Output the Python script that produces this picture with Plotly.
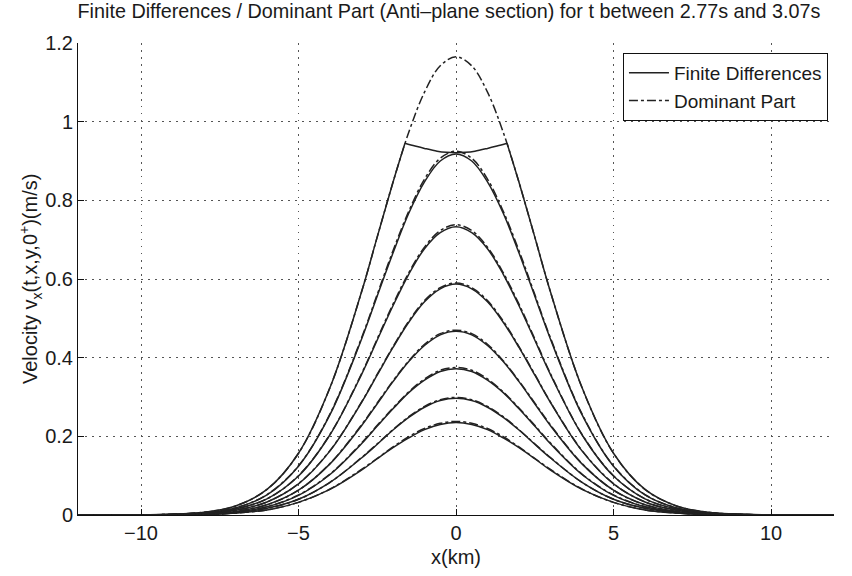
import plotly.graph_objects as go

# Sample positions along the section (km)
x_km = [-12, -10, -8, -7, -6, -5, -4, -3, -2.5, -2, -1.5, -1, -0.5, 0,
        0.5, 1, 1.5, 2, 2.5, 3, 4, 5, 6, 7, 8, 10, 12]

# Finite-difference velocity snapshots (m/s), lowest to highest
fd_1 = [0, 0, .001, .005, .013, .032, .065, .114, .143, .171, .196, .217, .230, .235,
        .230, .217, .196, .171, .143, .114, .065, .032, .013, .005, .001, 0, 0]
fd_2 = [0, 0, .002, .006, .017, .040, .083, .145, .180, .216, .248, .274, .291, .297,
        .291, .274, .248, .216, .180, .145, .083, .040, .017, .006, .002, 0, 0]
fd_3 = [0, 0, .002, .007, .021, .050, .103, .181, .226, .270, .311, .343, .365, .372,
        .365, .343, .311, .270, .226, .181, .103, .050, .021, .007, .002, 0, 0]
fd_4 = [0, 0, .003, .009, .026, .063, .130, .227, .283, .339, .390, .431, .458, .467,
        .458, .431, .390, .339, .283, .227, .130, .063, .026, .009, .003, 0, 0]
fd_5 = [0, 0, .004, .012, .033, .079, .163, .286, .356, .426, .490, .542, .575, .587,
        .575, .542, .490, .426, .356, .286, .163, .079, .033, .012, .004, 0, 0]
fd_6 = [0, 0, .004, .015, .041, .099, .204, .357, .445, .532, .612, .677, .718, .733,
        .718, .677, .612, .532, .445, .357, .204, .099, .041, .015, .004, 0, 0]
fd_7 = [0, 0, .006, .018, .051, .124, .255, .447, .557, .666, .767, .847, .900, .918,
        .900, .847, .767, .666, .557, .447, .255, .124, .051, .018, .006, 0, 0]

# Highest finite-difference snapshot: rising flank, flattened crest, falling flank
x_top_left = [-12, -10, -8, -7, -6, -5, -4, -3, -2.5, -2, -1.62]
fd_top_left = [0, 0, .007, .023, .065, .157, .324, .567, .707, .846, .945]
x_top_crest = [-1.62, -1.3, -1.0, -0.6, -0.3, 0, 0.3, 0.6, 1.0, 1.3, 1.62]
fd_top_crest = [.945, .938, .932, .925, .922, .921, .922, .925, .932, .938, .945]
x_top_right = [1.62, 2, 2.5, 3, 4, 5, 6, 7, 8, 10, 12]
fd_top_right = [.945, .846, .707, .567, .324, .157, .065, .023, .007, 0, 0]

# Dominant-part approximation (m/s), lowest to highest
dp_1 = [0, 0, .001, .005, .013, .032, .066, .116, .144, .173, .199, .220, .233, .238,
        .233, .220, .199, .173, .144, .116, .066, .032, .013, .005, .001, 0, 0]
dp_2 = [0, 0, .002, .006, .017, .040, .083, .146, .181, .217, .250, .276, .293, .299,
        .293, .276, .250, .217, .181, .146, .083, .040, .017, .006, .002, 0, 0]
dp_3 = [0, 0, .002, .007, .021, .051, .104, .183, .228, .272, .313, .346, .368, .375,
        .368, .346, .313, .272, .228, .183, .104, .051, .021, .007, .002, 0, 0]
dp_4 = [0, 0, .003, .009, .026, .063, .131, .229, .285, .341, .392, .434, .461, .470,
        .461, .434, .392, .341, .285, .229, .131, .063, .026, .009, .003, 0, 0]
dp_5 = [0, 0, .004, .012, .033, .080, .164, .287, .358, .428, .493, .545, .578, .590,
        .578, .545, .493, .428, .358, .287, .164, .080, .033, .012, .004, 0, 0]
dp_6 = [0, 0, .004, .015, .041, .100, .205, .359, .448, .536, .616, .681, .723, .738,
        .723, .681, .616, .536, .448, .359, .205, .100, .041, .015, .004, 0, 0]
dp_7 = [0, 0, .006, .018, .052, .125, .257, .450, .561, .672, .772, .854, .907, .925,
        .907, .854, .772, .672, .561, .450, .257, .125, .052, .018, .006, 0, 0]
dp_8 = [0, 0, .007, .023, .065, .157, .324, .567, .707, .846, .973, 1.075, 1.142, 1.165,
        1.142, 1.075, .973, .846, .707, .567, .324, .157, .065, .023, .007, 0, 0]

fd_series = [fd_1, fd_2, fd_3, fd_4, fd_5, fd_6, fd_7]
dp_series = [dp_1, dp_2, dp_3, dp_4, dp_5, dp_6, dp_7, dp_8]

x_ticks = [-10, -5, 0, 5, 10]
y_ticks = [0, 0.2, 0.4, 0.6, 0.8, 1.0, 1.2]

LINE = "#222222"
FONT = "Liberation Sans, Arial, Helvetica, sans-serif"
SOLID = dict(color=LINE, width=1.5, shape="spline")
DASHDOT = dict(color=LINE, width=1.5, dash="dashdot", shape="spline")

fig = go.Figure()

# Finite differences (solid)
fig.add_trace(go.Scatter(
    x=x_top_left, y=fd_top_left, mode="lines", name="Finite Differences",
    line=SOLID, showlegend=True, legendrank=1, legendgroup="fd"))
for xs, ys in [(x_top_crest, fd_top_crest), (x_top_right, fd_top_right)]:
    fig.add_trace(go.Scatter(x=xs, y=ys, mode="lines", line=SOLID,
                             showlegend=False, legendgroup="fd"))
for ys in fd_series:
    fig.add_trace(go.Scatter(x=x_km, y=ys, mode="lines", line=SOLID,
                             showlegend=False, legendgroup="fd"))

# Dominant part (dash-dot)
for i, ys in enumerate(dp_series):
    fig.add_trace(go.Scatter(
        x=x_km, y=ys, mode="lines", name="Dominant Part", line=DASHDOT,
        showlegend=(i == 0), legendrank=2, legendgroup="dp"))

fig.update_layout(
    width=852, height=576,
    margin=dict(l=78, r=18, t=43, b=53, pad=0),
    paper_bgcolor="white", plot_bgcolor="white",
    font=dict(family=FONT, size=20, color="#1a1a1a"),
    title=dict(
        text="Finite Differences / Dominant Part (Anti\u2013plane section) for t between 2.77s and 3.07s",
        x=0.527, xanchor="center", y=0.98, yanchor="middle",
        font=dict(size=19.8)),
    legend=dict(
        x=0.992, xanchor="right", y=0.979, yanchor="top",
        bgcolor="white", bordercolor="#111", borderwidth=1,
        font=dict(size=19), tracegroupgap=0, itemwidth=40),
    showlegend=True,
)

GRID = dict(showgrid=True, gridcolor="#555", griddash="1.5px,5.5px", gridwidth=1.2)

fig.update_xaxes(
    range=[-12, 12], tickvals=x_ticks,
    showline=True, linecolor="#111", linewidth=1, mirror=False,
    ticks="inside", ticklen=6, tickcolor="#111",
    zeroline=False, **GRID,
    title=dict(text="x(km)", standoff=6, font=dict(size=20)),
)
fig.update_yaxes(
    range=[0, 1.2], tickvals=y_ticks,
    showline=True, linecolor="#111", linewidth=1, mirror=False,
    ticks="inside", ticklen=6, tickcolor="#111",
    zeroline=False, **GRID,
)

fig.add_annotation(
    text="Velocity v<sub>x</sub>(t,x,y,0<sup>+</sup>)(m/s)",
    xref="paper", yref="paper", x=0, y=0.5, xshift=-48,
    xanchor="center", yanchor="middle", textangle=-90,
    showarrow=False, font=dict(size=20))

fig.write_html("out.html")
